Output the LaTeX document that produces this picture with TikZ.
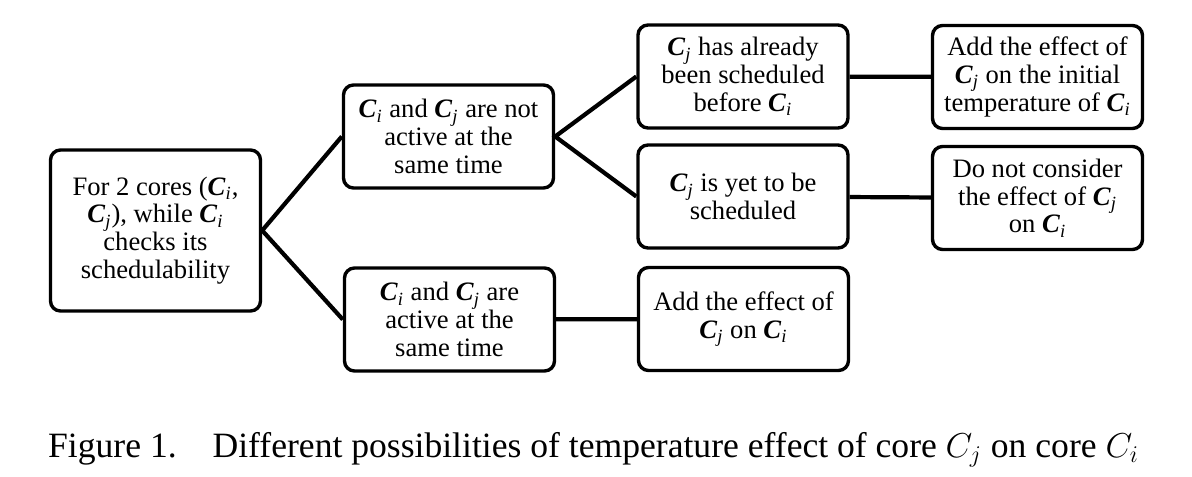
\documentclass[tikz,border=0pt]{standalone}
\usepackage{fontspec}
\setmainfont{Liberation Serif}
\newfontfamily\boxfont{Liberation Serif}
\newfontfamily\capfont{Liberation Serif}
\newcommand{\core}[1]{\textbf{\textit{C}}\textsubscript{\textit{#1}}}

\tikzset{
  casebox/.style={draw, line width=1.7pt, rounded corners=5pt, fill=white,
    align=center, minimum width=105pt, minimum height=51.5pt, inner sep=0pt,
    font=\boxfont\fontsize{13.3}{13.9}\selectfont},
  branch/.style={line width=2.1pt},
}

\begin{document}
\begin{tikzpicture}[x = 0.5pt, y = -0.5pt]
    \useasboundingbox (0,0) rectangle (1192,476);
    % root
    \node[casebox, minimum height=80.5pt] (root) at (155.5,230.5)
      {For 2 cores (\core{i},\\ \core{j}), while \core{i}\\ checks its\\ schedulability};
    % first level
    \node[casebox] (notactive) at (448.5,136.5)
      {\core{i} and \core{j} are not\\ active at the\\ same time};
    \node[casebox] (active) at (449.5,319.5)
      {\core{i} and \core{j} are\\ active at the\\ same time};
    % second level
    \node[casebox] (before) at (743,76.5)
      {\core{j} has already\\ been scheduled\\ before \core{i}};
    \node[casebox] (yet) at (743,196.5)
      {\core{j} is yet to be\\ scheduled};
    \node[casebox] (addeff) at (743.5,319)
      {Add the effect of\\ \core{j} on \core{i}};
    % third level
    \node[casebox] (initial) at (1037.5,77)
      {Add the effect of\\ \core{j} on the initial\\ temperature of \core{i}};
    \node[casebox] (ignore) at (1037.5,198)
      {Do not consider\\ the effect of \core{j}\\ on \core{i}};
    % connectors
    \draw[branch] (notactive.west) -- (root.east) -- (active.west);
    \draw[branch] (before.west) -- (notactive.east) -- (yet.west);
    \draw[branch] (active) -- (addeff);
    \draw[branch] (before) -- (initial);
    \draw[branch] (yet) -- (ignore);
    % caption
    \node[anchor=base, inner sep=0pt, font=\capfont\fontsize{17.8}{21}\selectfont] (caption) at (593.5,457)
      {Figure 1.\hspace{12pt} Different possibilities of temperature effect of core $C_j$ on core $C_i$};
\end{tikzpicture}
\end{document}
